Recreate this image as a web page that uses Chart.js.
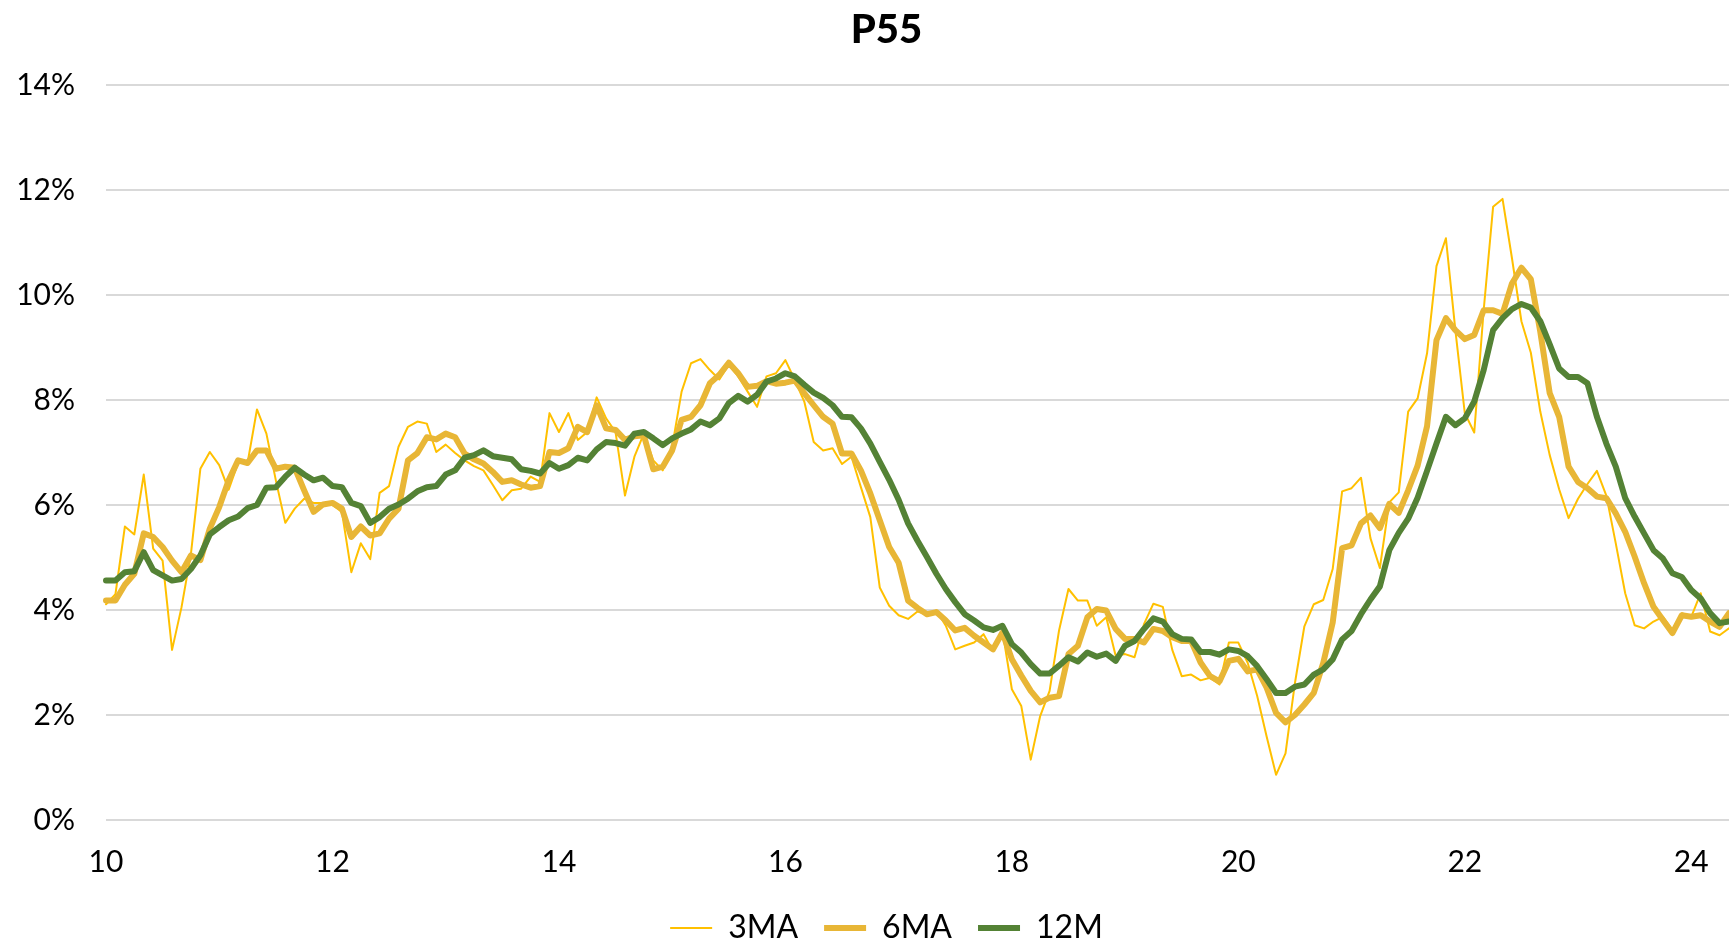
<!DOCTYPE html>
<html>
<head>
<meta charset="utf-8">
<title>P55</title>
<script src="https://cdn.jsdelivr.net/npm/chart.js@4.4.1/dist/chart.umd.min.js"></script>
<style>
    html, body { margin: 0; padding: 0; background: #ffffff; }
    #chartBox { width: 1729px; height: 946px; }
</style>
</head>
<body>
<div id="chartBox"><canvas id="myChart" width="1729" height="946"></canvas></div>
<script>
// monthly series, Jan 2010 .. May 2024 (percent)
const startYear = 2010;
const tickYears = ['10', '12', '14', '16', '18', '20', '22', '24'];

const ma3 = [
    4.11, 4.3, 5.59, 5.44, 6.58, 5.17, 4.94, 3.24, 4.05, 5.07, 6.69, 7.01,
    6.76, 6.29, 6.8, 6.8, 7.82, 7.36, 6.47, 5.66, 5.93, 6.12, 6.04, 6.04,
    6.0, 5.87, 4.72, 5.27, 4.97, 6.23, 6.36, 7.11, 7.49, 7.59, 7.55, 7.01,
    7.15, 6.99, 6.85, 6.74, 6.66, 6.38, 6.09, 6.28, 6.31, 6.54, 6.44, 7.75,
    7.39, 7.75, 7.24, 7.39, 8.05, 7.65, 7.39, 6.18, 6.92, 7.36, 6.85, 6.66,
    7.11, 8.16, 8.7, 8.78, 8.57, 8.39, 8.67, 8.45, 8.16, 7.87, 8.45, 8.51,
    8.76, 8.38, 7.97, 7.2, 7.04, 7.08, 6.78, 6.92, 6.34, 5.77, 4.43, 4.08,
    3.9, 3.83, 3.97, 3.92, 3.99, 3.7, 3.25, 3.32, 3.38, 3.54, 3.22, 3.61,
    2.49, 2.17, 1.15, 1.98, 2.46, 3.61, 4.4, 4.18, 4.18, 3.7, 3.86, 3.13,
    3.16, 3.1, 3.73, 4.12, 4.06, 3.24, 2.74, 2.77, 2.66, 2.71, 2.58, 3.38,
    3.38, 2.99, 2.36, 1.59, 0.86, 1.27, 2.61, 3.69, 4.11, 4.19, 4.78, 6.26,
    6.32, 6.52, 5.37, 4.8, 6.05, 6.24, 7.78, 8.03, 8.89, 10.55, 11.08, 9.33,
    7.75, 7.38, 9.71, 11.68, 11.83, 10.7, 9.5, 8.9, 7.78, 6.95, 6.3, 5.75,
    6.12, 6.4, 6.65, 6.18, 5.27, 4.32, 3.71, 3.65, 3.78, 3.87, 3.62, 3.94,
    3.87, 4.32, 3.59, 3.52, 3.65
];

const ma6 = [
    4.18, 4.18, 4.48, 4.69, 5.46, 5.39, 5.2, 4.94, 4.72, 5.04, 4.95, 5.55,
    5.96, 6.47, 6.85, 6.8, 7.04, 7.04, 6.69, 6.73, 6.71, 6.28, 5.87, 6.01,
    6.04, 5.93, 5.39, 5.59, 5.42, 5.46, 5.74, 5.93, 6.85, 6.99, 7.29, 7.25,
    7.36, 7.29, 6.98, 6.87, 6.79, 6.63, 6.44, 6.47, 6.39, 6.33, 6.36, 7.01,
    6.99, 7.08, 7.49, 7.39, 7.9, 7.46, 7.43, 7.24, 7.31, 7.33, 6.68, 6.73,
    7.04, 7.62, 7.68, 7.9, 8.32, 8.48, 8.71, 8.51, 8.25, 8.27, 8.36, 8.31,
    8.33, 8.37, 8.13, 7.9, 7.68, 7.55, 6.98, 6.98, 6.66, 6.22, 5.71, 5.2,
    4.9, 4.18, 4.04, 3.92, 3.96, 3.8, 3.61, 3.66, 3.51, 3.38, 3.25, 3.57,
    3.06, 2.75, 2.46, 2.24, 2.33, 2.36, 3.16, 3.32, 3.86, 4.02, 3.99, 3.64,
    3.45, 3.45, 3.38, 3.64, 3.6, 3.48, 3.41, 3.41, 3.0, 2.74, 2.64, 3.03,
    3.07, 2.83, 2.87, 2.52, 2.04, 1.86, 2.0, 2.2, 2.42, 2.99, 3.76, 5.18,
    5.23, 5.65, 5.8, 5.56, 6.02, 5.85, 6.28, 6.75, 7.5, 9.14, 9.56, 9.33,
    9.16, 9.24, 9.71, 9.71, 9.64, 10.22, 10.52, 10.3, 9.3, 8.13, 7.68, 6.73,
    6.44, 6.32, 6.16, 6.13, 5.84, 5.49, 5.02, 4.51, 4.06, 3.81, 3.56, 3.9,
    3.87, 3.9, 3.78, 3.68, 3.94
];

const m12 = [
    4.56, 4.56, 4.72, 4.74, 5.1, 4.76, 4.66, 4.56, 4.59, 4.78, 5.04, 5.44,
    5.58, 5.71, 5.78, 5.94, 6.0, 6.33, 6.34, 6.54, 6.71, 6.58, 6.47, 6.52,
    6.36, 6.34, 6.04, 5.98, 5.66, 5.77, 5.93, 6.01, 6.12, 6.26, 6.34, 6.36,
    6.58, 6.66, 6.9, 6.95, 7.04, 6.93, 6.9, 6.87, 6.68, 6.65, 6.6, 6.8,
    6.69, 6.76, 6.9, 6.85, 7.06, 7.2, 7.18, 7.13, 7.36, 7.39, 7.27, 7.14,
    7.27, 7.36, 7.44, 7.59, 7.52, 7.65, 7.94, 8.08, 7.97, 8.1, 8.35, 8.41,
    8.51, 8.45, 8.29, 8.14, 8.04, 7.9, 7.68, 7.67, 7.46, 7.17, 6.82, 6.48,
    6.1, 5.65, 5.32, 5.01, 4.69, 4.4, 4.15, 3.92, 3.8, 3.67, 3.62, 3.7,
    3.35, 3.19, 2.97, 2.79, 2.79, 2.94, 3.1, 3.02, 3.19, 3.11, 3.17, 3.03,
    3.32, 3.41, 3.64, 3.84, 3.78, 3.54, 3.45, 3.44, 3.2, 3.2, 3.15, 3.25,
    3.22, 3.12, 2.93, 2.68, 2.42, 2.42, 2.54, 2.58, 2.77, 2.87, 3.06, 3.44,
    3.6, 3.92, 4.2, 4.45, 5.14, 5.47, 5.74, 6.14, 6.65, 7.17, 7.68, 7.52,
    7.65, 7.97, 8.57, 9.33, 9.56, 9.73, 9.83, 9.76, 9.5, 9.06, 8.6, 8.44,
    8.44, 8.32, 7.68, 7.17, 6.73, 6.13, 5.78, 5.46, 5.14, 4.98, 4.7, 4.63,
    4.38, 4.22, 3.94, 3.75, 3.78
];

// month labels, one per data point
const categories = ma3.map(function(v, i) {
    const y = startYear + Math.floor(i / 12);
    const m = (i % 12) + 1;
    return y + '-' + (m < 10 ? '0' + m : m);
});

document.addEventListener('DOMContentLoaded', function() {
    const fontFamily = 'Lato, "Open Sans", sans-serif';
    const ctx = document.getElementById('myChart').getContext('2d');

    const myChart = new Chart(ctx, {
        type: 'line',
        data: {
            labels: categories,
            datasets: [{
                label: '3MA',
                data: ma3,
                borderColor: '#FFC000',
                backgroundColor: '#FFC000',
                borderWidth: 2,
                order: 3
            }, {
                label: '6MA',
                data: ma6,
                borderColor: '#E8B636',
                backgroundColor: '#E8B636',
                borderWidth: 6,
                order: 2
            }, {
                label: '12M',
                data: m12,
                borderColor: '#548235',
                backgroundColor: '#548235',
                borderWidth: 6,
                order: 1
            }]
        },
        options: {
            responsive: false,
            animation: false,
            devicePixelRatio: 1,
            elements: {
                line: { tension: 0, borderCapStyle: 'round', borderJoinStyle: 'round' },
                point: { radius: 0 }
            },
            // negative right padding centres title/legend a bit to the right
            layout: { padding: { left: 0, right: -44, top: 0, bottom: -8 } },
            scales: {
                x: {
                    type: 'category',
                    offset: false,
                    afterFit: function(scale) {
                        scale.paddingRight = 0;
                        scale.height = 66;
                    },
                    grid: { display: false, drawTicks: false },
                    border: { display: false },
                    ticks: {
                        autoSkip: false,
                        maxRotation: 0,
                        padding: 24,
                        color: '#000000',
                        font: { family: fontFamily, size: 30 },
                        callback: function(value, index) {
                            const label = categories[index];
                            const yy = label.substring(2, 4);
                            if (label.substring(5) === '01' && tickYears.indexOf(yy) !== -1) {
                                return yy;
                            }
                            return '';
                        }
                    }
                },
                y: {
                    min: 0,
                    max: 14,
                    afterFit: function(scale) {
                        scale.width = 106;
                    },
                    grid: { color: '#D9D9D9', lineWidth: 2, drawTicks: false },
                    border: { display: false },
                    ticks: {
                        stepSize: 2,
                        padding: 31,
                        color: '#000000',
                        font: { family: fontFamily, size: 30 },
                        callback: function(value) {
                            return value + '%';
                        }
                    }
                }
            },
            plugins: {
                title: {
                    display: true,
                    text: 'P55',
                    color: '#000000',
                    font: { family: fontFamily, size: 40, weight: '900' },
                    padding: { top: 6, bottom: 31 }
                },
                legend: {
                    position: 'bottom',
                    labels: {
                        usePointStyle: true,
                        pointStyle: 'line',
                        pointStyleWidth: 42,
                        padding: 26,
                        color: '#000000',
                        font: { family: fontFamily, size: 32 },
                        sort: function(a, b) {
                            return a.datasetIndex - b.datasetIndex;
                        }
                    }
                },
                tooltip: { enabled: false }
            }
        }
    });
});
</script>
</body>
</html>
